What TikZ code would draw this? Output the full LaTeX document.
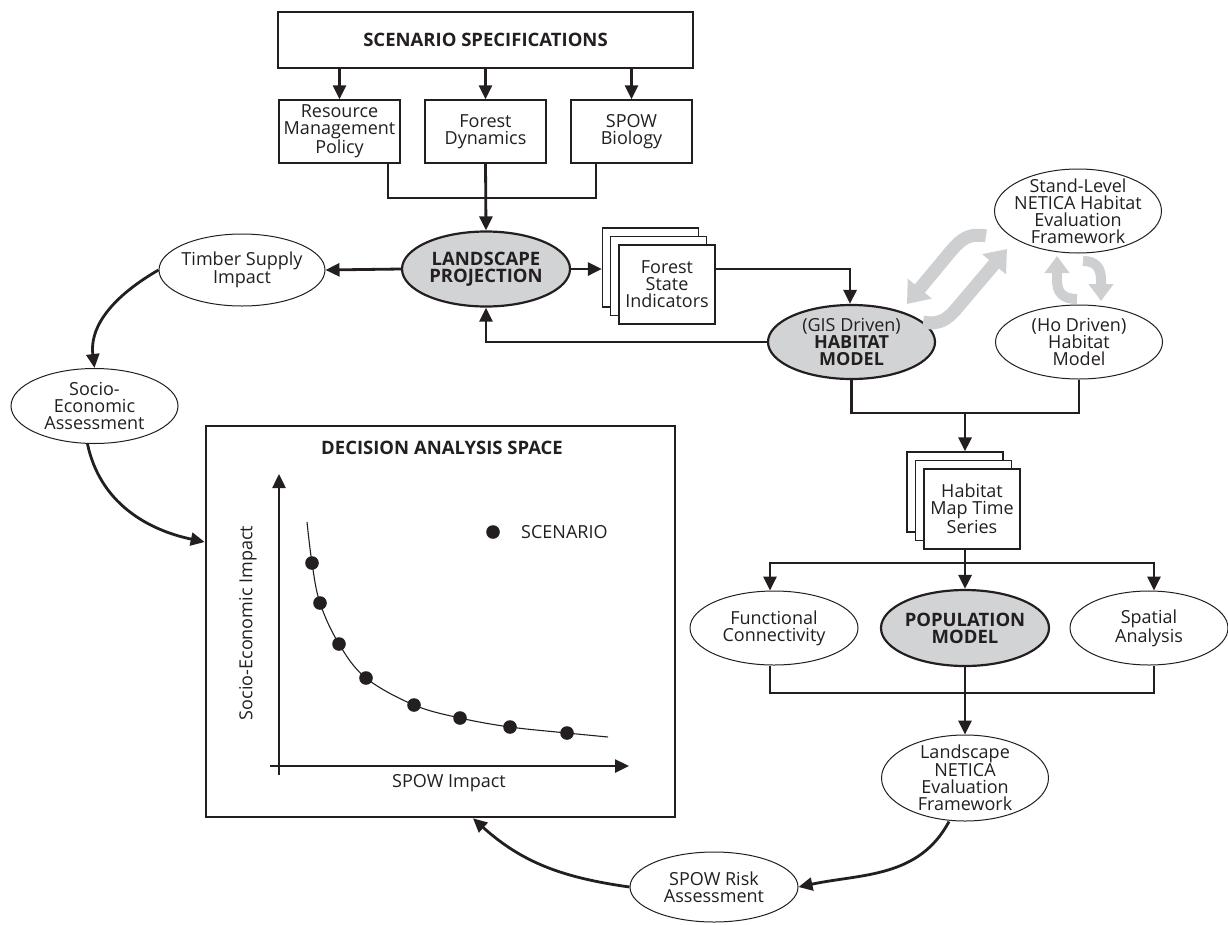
\documentclass[tikz,border=0pt]{standalone}
\usepackage{fontspec}
\setmainfont{Open Sans}
\usetikzlibrary{arrows.meta,shapes.geometric}
\definecolor{gfill}{RGB}{209,211,212}
\definecolor{garrow}{RGB}{206,207,209}
\definecolor{ink}{RGB}{35,31,32}
\begin{document}
\begin{tikzpicture}[x=1pt,y=-1pt,
  font=\fontsize{18pt}{17pt}\selectfont,
  bfont/.style={font=\fontsize{18.5pt}{17pt}\selectfont\bfseries},
  txt/.style={align=center,inner sep=0pt,text=ink},
  box/.style={draw=ink,line width=1.3pt,minimum width=121pt,minimum height=63pt,inner sep=0pt,align=center,fill=white,text=ink},
  page/.style={draw=ink,line width=1.2pt,minimum width=96pt,minimum height=79pt,inner sep=0pt,align=center,fill=white,text=ink},
  ell/.style={ellipse,draw=ink,line width=1pt,inner sep=0pt,fill=white},
  gell/.style={ellipse,draw=ink,line width=2.2pt,inner sep=0pt,fill=gfill},
  conn/.style={draw=ink,line width=2.8pt},
  arr/.style={conn,-{Triangle[width=13pt,length=14pt]}},
  garr/.style={draw=garrow,line width=13pt,-{Triangle[width=30pt,length=20pt]}},
  sgarr/.style={draw=garrow,line width=10pt,-{Triangle[width=24pt,length=17pt]}}
]
\useasboundingbox (0,0) rectangle (1228,924);

% top
\node[draw=ink,line width=2.6pt,minimum width=415pt,minimum height=56pt,inner sep=0pt,bfont,text=ink] (spec) at (485.5,40) {SCENARIO SPECIFICATIONS};
\node[box] (rmp) at (339.5,131.5) {Resource\\Management\\Policy};
\node[box] (fd) at (485.5,131.5) {Forest\\Dynamics};
\node[box] (sb) at (631.5,131.5) {SPOW\\Biology};

% landscape projection
\node[gell,minimum width=168pt,minimum height=75pt] (lp) at (486,269) {};
\node[txt,bfont] (lpt) at (lp) {LANDSCAPE\\PROJECTION};

% forest state indicators
\node[page] (fsia) at (650.5,267.5) {};
\node[page] (fsib) at (658.5,276) {};
\node[page] (fsic) at (667,284.5) {Forest\\State\\Indicators};

% habitat model
\node[gell,minimum width=167pt,minimum height=74pt] (hab) at (851.5,342) {};
\node[txt] (habt) at (hab) {(GIS Driven)\\{\bfseries HABITAT}\\{\bfseries MODEL}};

% stand level
\node[ell,minimum width=167pt,minimum height=84pt] (st) at (1078,211) {};
\node[txt] (stt) at (st) {Stand-Level\\NETICA Habitat\\Evaluation\\Framework};

% ho driven
\node[ell,minimum width=167pt,minimum height=74pt] (ho) at (1079,342) {};
\node[txt] (hot) at (ho) {(Ho Driven)\\Habitat\\Model};

% gray arrows
\coordinate (ga1) at (986,236);
\coordinate (ga2) at (907,304);
\coordinate (gb1) at (923,322);
\coordinate (gb2) at (1007,249);
\draw[garr] (ga1) .. controls (970,233) and (962,238) .. (951,251) -- (ga2);
\draw[garr] (gb1) .. controls (939,325) and (947,320) .. (957,308) -- (gb2);
\coordinate (gc1) at (1077,299);
\coordinate (gc2) at (1057,256);
\coordinate (gd1) at (1083,261);
\coordinate (gd2) at (1101,301);
\draw[sgarr] (gc1) .. controls (1062,299) and (1057,292) .. (1057,280) -- (gc2);
\draw[sgarr] (gd1) .. controls (1096,261) and (1101,268) .. (1101,280) -- (gd2);

% timber, socio
\node[ell,minimum width=166pt,minimum height=72pt] (timber) at (242,270) {};
\node[txt] (timbert) at (timber) {Timber Supply\\Impact};
\node[ell,minimum width=167pt,minimum height=75pt] (socio) at (94.5,406) {};
\node[txt] (sociot) at (socio) {Socio-\\Economic\\Assessment};

% habitat map time series
\node[page,minimum height=80pt] (hma) at (955,492) {};
\node[page,minimum height=80pt] (hmb) at (963.5,500.5) {};
\node[page,minimum height=80pt] (hmc) at (972,509) {Habitat\\Map Time\\Series};

% row of three
\node[ell,minimum width=168pt,minimum height=74pt] (fc) at (774,628) {};
\node[txt] (fct) at (fc) {Functional\\Connectivity};
\node[gell,minimum width=168pt,minimum height=76pt] (pop) at (965,628) {};
\node[txt,bfont] (popt) at (pop) {POPULATION\\MODEL};
\node[ell,minimum width=158pt,minimum height=74pt] (sa) at (1149,628) {};
\node[txt] (sat) at (sa) {Spatial\\Analysis};

% landscape netica, risk
\node[ell,minimum width=167pt,minimum height=86pt] (lnet) at (965,778) {};
\node[txt] (lnett) at (lnet) {Landscape\\NETICA\\Evaluation\\Framework};
\node[ell,minimum width=168pt,minimum height=70pt] (risk) at (714,887) {};
\node[txt] (riskt) at (risk) {SPOW Risk\\Assessment};

% decision analysis space
\node[draw=ink,line width=2.6pt,minimum width=469pt,minimum height=391pt,inner sep=0pt] (dec) at (440.5,621.5) {};
\node[txt,bfont] (dect) at (442,448) {DECISION ANALYSIS SPACE};
\coordinate (yb) at (279,775);
\coordinate (yt) at (279,474);
\coordinate (xl) at (270,766);
\coordinate (xr) at (629,766);
\draw[draw=ink,line width=2.5pt,-{Triangle[width=13pt,length=14pt]}] (yb) -- (yt);
\draw[draw=ink,line width=2.5pt,-{Triangle[width=13pt,length=14pt]}] (xl) -- (xr);
\node[txt,rotate=90] (ylab) at (248,623) {Socio-Economic Impact};
\node[txt] (xlab) at (449,783) {SPOW Impact};
\draw[ink,line width=1.1pt] plot[smooth,tension=0.6] coordinates {(307,522) (312,563) (320,603) (339,644) (366,678) (414,705) (460,718) (510,727) (567,733) (608,737)};
\foreach \p in {(312,563),(320,603),(339,644),(366,678),(414,705),(460,718),(510,727),(567,733)}
  \fill[ink] \p circle (6.8pt);
\fill[ink] (493,532) circle (6.8pt);
\node[txt,anchor=west] (leg) at (521,532) {SCENARIO};

% connectors
\draw[arr] (spec.south -| rmp.north) -- (rmp.north);
\draw[arr] (spec.south -| fd.north) -- (fd.north);
\draw[arr] (spec.south -| sb.north) -- (sb.north);
\coordinate (busA) at (486,198);
\draw[conn] ([xshift=48.5pt]rmp.south) |- (busA) -| ([xshift=-35.5pt]sb.south);
\draw[arr] (fd.south) -- (lp.north);
\draw[arr] (lp.east) -- (lp.east -| fsia.west);
\draw[arr] (fsic.east |- lp.east) -| ([xshift=-1.5pt]hab.north);
\draw[arr] (hab.west) -| (lp.south);
\draw[arr] (lp.west) -- (timber.east);
\draw[arr] (timber.west) to[out=210,in=97] (socio.north);
\draw[arr] ([xshift=-7pt]socio.south) to[out=-78,in=168] ([yshift=79.5pt]dec.west);
\coordinate (hbus) at (965,413);
\draw[conn] (hab.south) |- (hbus) -| (ho.south);
\draw[arr] (hbus) -- (hbus |- hma.north);
\coordinate (pbus) at (965,563);
\draw[conn] (hbus |- hmc.south) -- (pbus);
\draw[arr] (pbus) -| ([xshift=-4pt]fc.north);
\draw[arr] (pbus) -| ([xshift=5pt]sa.north);
\draw[arr] (pbus) -- (pop.north);
\coordinate (lbus) at (965,693);
\draw[conn] ([xshift=-4pt]fc.south) |- (lbus) -| ([xshift=5pt]sa.south);
\draw[arr] (pop.south) -- (lnet.north);
\draw[arr] ([xshift=-16pt]lnet.south) to[out=-118,in=12] (risk.east);
\draw[arr] (risk.west) to[out=172,in=-42] ([xshift=32.5pt]dec.south);
\end{tikzpicture}
\end{document}
